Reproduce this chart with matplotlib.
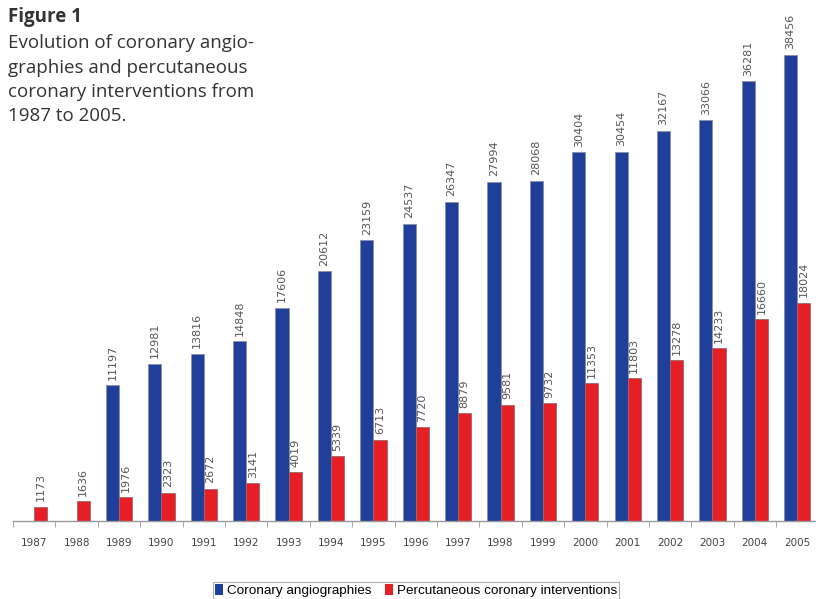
import numpy as np
import matplotlib
matplotlib.use("Agg")
import matplotlib.pyplot as plt
from matplotlib.patches import Patch

years = ["1987", "1988", "1989", "1990", "1991", "1992", "1993", "1994", "1995", "1996",
         "1997", "1998", "1999", "2000", "2001", "2002", "2003", "2004", "2005"]
angiographies = [None, None, 11197, 12981, 13816, 14848, 17606, 20612, 23159, 24537,
                 26347, 27994, 28068, 30404, 30454, 32167, 33066, 36281, 38456]
interventions = [1173, 1636, 1976, 2323, 2672, 3141, 4019, 5339, 6713, 7720,
                 8879, 9581, 9732, 11353, 11803, 13278, 14233, 16660, 18024]

series_names = ["Coronary angiographies", "Percutaneous coronary interventions"]
blue = "#1f3f9a"
red = "#e61f26"

narrow = ["Liberation Sans Narrow", "Liberation Sans", "DejaVu Sans"]
text_font = ["Open Sans", "DejaVu Sans"]

fig = plt.figure(figsize=(8.16, 5.99), dpi=100)
ax = fig.add_axes([0.016, 0.13, 0.987, 0.81])

x = np.arange(len(years))
w = 0.31
a_vals = np.array([np.nan if v is None else v for v in angiographies], dtype=float)
p_vals = np.array(interventions, dtype=float)

ax.bar(x - w / 2, np.nan_to_num(a_vals), w, color=blue, edgecolor="#8a8fa8", linewidth=0.6)
ax.bar(x + w / 2, p_vals, w, color=red, edgecolor="#9a6a6a", linewidth=0.6)

for xi, v in zip(x, a_vals):
    if not np.isnan(v):
        ax.text(xi - w / 2, v + 450, f"{int(v)}", rotation=90, ha="center", va="bottom",
                fontsize=8, family="DejaVu Sans", color="#555555")
for xi, v in zip(x, p_vals):
    ax.text(xi + w / 2, v + 450, f"{int(v)}", rotation=90, ha="center", va="bottom",
            fontsize=8, family="DejaVu Sans", color="#555555")

ax.set_xlim(-0.5, len(years) - 0.5)
ax.set_ylim(0, 40000)
ax.set_yticks([])
for s in ["left", "right", "top"]:
    ax.spines[s].set_visible(False)
ax.spines["bottom"].set_color("#9a9a9a")
ax.spines["bottom"].set_linewidth(1.0)

ax.set_xticks(x)
ax.set_xticklabels(years, family="DejaVu Sans", fontsize=7.5, color="#444444")
ax.tick_params(axis="x", length=0, pad=12)
ax.set_xticks(np.arange(-0.5, len(years), 1.0), minor=True)
ax.tick_params(axis="x", which="minor", length=4, color="#9a9a9a")

fig.text(0.010, 0.988, "Figure 1", fontsize=13.5, fontweight="bold", family=text_font,
         color="#333333", va="top", ha="left")
fig.text(0.010, 0.943, "Evolution of coronary angio-\ngraphies and percutaneous\ncoronary interventions from\n1987 to 2005.",
         fontsize=13.5, family=text_font, color="#333333", va="top", ha="left", linespacing=1.46)

handles = [Patch(facecolor=blue, edgecolor="none"), Patch(facecolor=red, edgecolor="none")]
leg = fig.legend(handles, series_names, loc="center", bbox_to_anchor=(0.51, 0.014),
                 ncol=2, frameon=True, fancybox=False, prop={"family": narrow, "size": 9.7},
                 handlelength=0.6, handleheight=0.9, handletextpad=0.3, columnspacing=1.0,
                 borderpad=0.15, borderaxespad=0)
leg.get_frame().set_edgecolor("#999999")
leg.get_frame().set_linewidth(0.8)

fig.savefig("out.png", dpi=100)
